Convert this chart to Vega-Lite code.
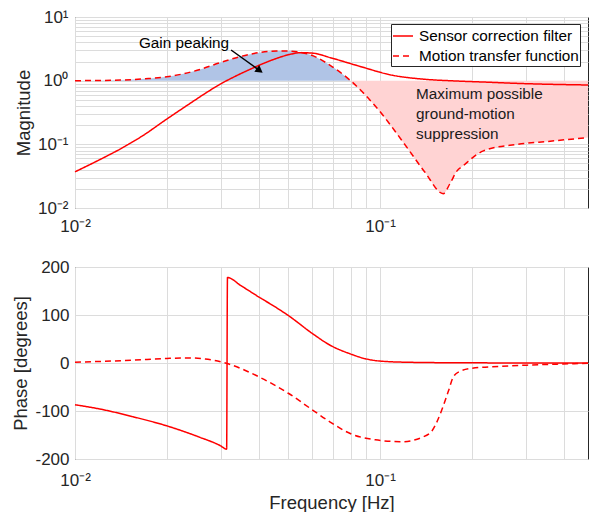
{
  "$schema": "https://vega.github.io/schema/vega-lite/v6.json",
  "background": "white",
  "padding": {"left": 11, "top": 7, "right": 0, "bottom": 0},
  "spacing": 22,
  "config": {
    "font": "Liberation Sans",
    "view": {"stroke": "#262626", "strokeWidth": 1},
    "axis": {"domain": false, "ticks": false, "grid": true, "gridColor": "#dcdcdc", "gridWidth": 1, "labelFont": "Liberation Sans", "labelFontSize": 17, "labelColor": "#262626", "titleFont": "Liberation Sans", "titleFontSize": 18.5, "titleFontWeight": "normal", "titleColor": "#262626", "labelOverlap": false, "labelBound": false, "labelFlush": false}
  },
  "resolve": {"scale": {"strokeDash": "independent", "color": "independent"}, "legend": {"strokeDash": "independent", "color": "independent"}},
  "datasets": {
    "fill": [
      {"f": 0.01, "mag": 1.0, "region": "gain"},
      {"f": 0.0141, "mag": 1.02, "region": "gain"},
      {"f": 0.017, "mag": 1.07, "region": "gain"},
      {"f": 0.02, "mag": 1.15, "region": "gain"},
      {"f": 0.0257, "mag": 1.5, "region": "gain"},
      {"f": 0.0299, "mag": 1.92, "region": "gain"},
      {"f": 0.0375, "mag": 2.6, "region": "gain"},
      {"f": 0.0436, "mag": 2.9, "region": "gain"},
      {"f": 0.0458, "mag": 2.93, "region": "gain"},
      {"f": 0.05, "mag": 2.92, "region": "gain"},
      {"f": 0.0547, "mag": 2.8, "region": "gain"},
      {"f": 0.0604, "mag": 2.45, "region": "gain"},
      {"f": 0.0686, "mag": 1.74, "region": "gain"},
      {"f": 0.08, "mag": 1.0, "region": "gain"},
      {"f": 0.08, "mag": 1.0, "region": "supp"},
      {"f": 0.0964, "mag": 0.4, "region": "supp"},
      {"f": 0.1236, "mag": 0.084, "region": "supp"},
      {"f": 0.1405, "mag": 0.036, "region": "supp"},
      {"f": 0.161, "mag": 0.0168, "region": "supp"},
      {"f": 0.17, "mag": 0.025, "region": "supp"},
      {"f": 0.1784, "mag": 0.038, "region": "supp"},
      {"f": 0.187, "mag": 0.046, "region": "supp"},
      {"f": 0.218, "mag": 0.079, "region": "supp"},
      {"f": 0.281, "mag": 0.1, "region": "supp"},
      {"f": 0.361, "mag": 0.112, "region": "supp"},
      {"f": 0.48, "mag": 0.128, "region": "supp"}
    ],
    "mag": [
      {"f": 0.01, "mag": 0.037, "series": "Sensor correction filter"},
      {"f": 0.0121, "mag": 0.058, "series": "Sensor correction filter"},
      {"f": 0.0141, "mag": 0.085, "series": "Sensor correction filter"},
      {"f": 0.0168, "mag": 0.14, "series": "Sensor correction filter"},
      {"f": 0.02, "mag": 0.25, "series": "Sensor correction filter"},
      {"f": 0.0235, "mag": 0.42, "series": "Sensor correction filter"},
      {"f": 0.0267, "mag": 0.63, "series": "Sensor correction filter"},
      {"f": 0.0299, "mag": 0.88, "series": "Sensor correction filter"},
      {"f": 0.0335, "mag": 1.17, "series": "Sensor correction filter"},
      {"f": 0.0375, "mag": 1.51, "series": "Sensor correction filter"},
      {"f": 0.0415, "mag": 1.87, "series": "Sensor correction filter"},
      {"f": 0.0458, "mag": 2.24, "series": "Sensor correction filter"},
      {"f": 0.0505, "mag": 2.58, "series": "Sensor correction filter"},
      {"f": 0.0547, "mag": 2.75, "series": "Sensor correction filter"},
      {"f": 0.0604, "mag": 2.7, "series": "Sensor correction filter"},
      {"f": 0.0686, "mag": 2.3, "series": "Sensor correction filter"},
      {"f": 0.085, "mag": 1.7, "series": "Sensor correction filter"},
      {"f": 0.1094, "mag": 1.22, "series": "Sensor correction filter"},
      {"f": 0.1405, "mag": 1.05, "series": "Sensor correction filter"},
      {"f": 0.176, "mag": 0.99, "series": "Sensor correction filter"},
      {"f": 0.22, "mag": 0.95, "series": "Sensor correction filter"},
      {"f": 0.294, "mag": 0.9, "series": "Sensor correction filter"},
      {"f": 0.48, "mag": 0.855, "series": "Sensor correction filter"},
      {"f": 0.01, "mag": 1.0, "series": "Motion transfer function"},
      {"f": 0.0141, "mag": 1.02, "series": "Motion transfer function"},
      {"f": 0.017, "mag": 1.07, "series": "Motion transfer function"},
      {"f": 0.02, "mag": 1.15, "series": "Motion transfer function"},
      {"f": 0.0257, "mag": 1.5, "series": "Motion transfer function"},
      {"f": 0.0299, "mag": 1.92, "series": "Motion transfer function"},
      {"f": 0.0375, "mag": 2.6, "series": "Motion transfer function"},
      {"f": 0.0436, "mag": 2.9, "series": "Motion transfer function"},
      {"f": 0.0458, "mag": 2.93, "series": "Motion transfer function"},
      {"f": 0.05, "mag": 2.92, "series": "Motion transfer function"},
      {"f": 0.0547, "mag": 2.8, "series": "Motion transfer function"},
      {"f": 0.0604, "mag": 2.45, "series": "Motion transfer function"},
      {"f": 0.0686, "mag": 1.74, "series": "Motion transfer function"},
      {"f": 0.08, "mag": 1.0, "series": "Motion transfer function"},
      {"f": 0.0964, "mag": 0.4, "series": "Motion transfer function"},
      {"f": 0.1236, "mag": 0.084, "series": "Motion transfer function"},
      {"f": 0.1405, "mag": 0.036, "series": "Motion transfer function"},
      {"f": 0.161, "mag": 0.0168, "series": "Motion transfer function"},
      {"f": 0.17, "mag": 0.025, "series": "Motion transfer function"},
      {"f": 0.1784, "mag": 0.038, "series": "Motion transfer function"},
      {"f": 0.187, "mag": 0.046, "series": "Motion transfer function"},
      {"f": 0.218, "mag": 0.079, "series": "Motion transfer function"},
      {"f": 0.281, "mag": 0.1, "series": "Motion transfer function"},
      {"f": 0.361, "mag": 0.112, "series": "Motion transfer function"},
      {"f": 0.48, "mag": 0.128, "series": "Motion transfer function"}
    ],
    "phase": [
      {"f": 0.01, "phase": -87, "series": "Sensor correction filter"},
      {"f": 0.0121, "phase": -96, "series": "Sensor correction filter"},
      {"f": 0.0155, "phase": -112, "series": "Sensor correction filter"},
      {"f": 0.02, "phase": -131, "series": "Sensor correction filter"},
      {"f": 0.0257, "phase": -155, "series": "Sensor correction filter"},
      {"f": 0.0299, "phase": -172, "series": "Sensor correction filter"},
      {"f": 0.0314, "phase": -179.5, "series": "Sensor correction filter"},
      {"f": 0.0316, "phase": 178, "series": "Sensor correction filter"},
      {"f": 0.035, "phase": 161, "series": "Sensor correction filter"},
      {"f": 0.0404, "phase": 136, "series": "Sensor correction filter"},
      {"f": 0.045, "phase": 118, "series": "Sensor correction filter"},
      {"f": 0.05, "phase": 99, "series": "Sensor correction filter"},
      {"f": 0.0604, "phase": 60, "series": "Sensor correction filter"},
      {"f": 0.0686, "phase": 37, "series": "Sensor correction filter"},
      {"f": 0.0798, "phase": 19, "series": "Sensor correction filter"},
      {"f": 0.0893, "phase": 9, "series": "Sensor correction filter"},
      {"f": 0.1, "phase": 4, "series": "Sensor correction filter"},
      {"f": 0.1236, "phase": 1.5, "series": "Sensor correction filter"},
      {"f": 0.176, "phase": 0.5, "series": "Sensor correction filter"},
      {"f": 0.25, "phase": 0.2, "series": "Sensor correction filter"},
      {"f": 0.48, "phase": 0, "series": "Sensor correction filter"},
      {"f": 0.01, "phase": 1.5, "series": "Motion transfer function"},
      {"f": 0.0155, "phase": 6, "series": "Motion transfer function"},
      {"f": 0.02, "phase": 9.5, "series": "Motion transfer function"},
      {"f": 0.0235, "phase": 10.5, "series": "Motion transfer function"},
      {"f": 0.0267, "phase": 8.5, "series": "Motion transfer function"},
      {"f": 0.0313, "phase": -0.5, "series": "Motion transfer function"},
      {"f": 0.0404, "phase": -30, "series": "Motion transfer function"},
      {"f": 0.05, "phase": -63, "series": "Motion transfer function"},
      {"f": 0.0604, "phase": -99, "series": "Motion transfer function"},
      {"f": 0.0686, "phase": -123, "series": "Motion transfer function"},
      {"f": 0.0798, "phase": -147, "series": "Motion transfer function"},
      {"f": 0.0964, "phase": -160, "series": "Motion transfer function"},
      {"f": 0.1178, "phase": -164, "series": "Motion transfer function"},
      {"f": 0.1371, "phase": -155, "series": "Motion transfer function"},
      {"f": 0.148, "phase": -141, "series": "Motion transfer function"},
      {"f": 0.159, "phase": -99, "series": "Motion transfer function"},
      {"f": 0.1675, "phase": -58, "series": "Motion transfer function"},
      {"f": 0.174, "phase": -28, "series": "Motion transfer function"},
      {"f": 0.183, "phase": -17, "series": "Motion transfer function"},
      {"f": 0.2, "phase": -11, "series": "Motion transfer function"},
      {"f": 0.247, "phase": -7, "series": "Motion transfer function"},
      {"f": 0.303, "phase": -4.5, "series": "Motion transfer function"},
      {"f": 0.398, "phase": -2, "series": "Motion transfer function"},
      {"f": 0.48, "phase": -0.5, "series": "Motion transfer function"}
    ]
  },
  "vconcat": [
    {
      "width": 513,
      "height": 191,
      "layer": [
        {
          "data": {"name": "fill"},
          "mark": {"type": "area", "opacity": 1, "interpolate": "monotone"},
          "encoding": {
            "x": {"field": "f", "type": "quantitative", "scale": {"type": "log", "domain": [0.01, 0.48], "nice": false},
              "axis": {"title": null, "values": [0.01, 0.02, 0.03, 0.04, 0.05, 0.06, 0.07, 0.08, 0.09, 0.1, 0.2, 0.3, 0.4], "labelExpr": "datum.value == 0.01 ? '10⁻²' : datum.value == 0.1 ? '10⁻¹' : ''", "labelPadding": 10}},
            "y": {"field": "mag", "type": "quantitative", "scale": {"type": "log", "domain": [0.01, 10], "nice": false},
              "axis": {"title": "Magnitude", "values": [0.01, 0.02, 0.03, 0.04, 0.05, 0.06, 0.07, 0.08, 0.09, 0.1, 0.2, 0.3, 0.4, 0.5, 0.6, 0.7, 0.8, 0.9, 1, 2, 3, 4, 5, 6, 7, 8, 9, 10], "labelExpr": "datum.value == 0.01 ? '10⁻²' : datum.value == 0.1 ? '10⁻¹' : datum.value == 1 ? '10⁰' : datum.value == 10 ? '10¹' : ''", "labelPadding": 7, "titlePadding": 4}},
            "y2": {"datum": 1},
            "color": {"field": "region", "type": "nominal", "scale": {"domain": ["gain", "supp"], "range": ["#b0c4e6", "#ffd3d3"]}, "legend": null}
          }
        },
        {
          "data": {"name": "mag"},
          "mark": {"type": "line", "color": "#ff0000", "strokeWidth": 1.5, "interpolate": "monotone"},
          "encoding": {
            "x": {"field": "f", "type": "quantitative"},
            "y": {"field": "mag", "type": "quantitative"},
            "strokeDash": {"field": "series", "type": "nominal",
              "scale": {"domain": ["Sensor correction filter", "Motion transfer function"], "range": [[1, 0], [6, 4]]},
              "legend": {"title": null, "orient": "none", "legendX": 316, "legendY": 7, "direction": "vertical", "fillColor": "white", "strokeColor": "#262626", "padding": 1, "labelFontSize": 15.3, "labelFont": "Liberation Sans", "labelColor": "#000000", "labelLimit": 400, "symbolType": "stroke", "symbolSize": 400, "symbolStrokeColor": "#ff0000", "symbolStrokeWidth": 1.5, "rowPadding": 0, "labelOffset": 5}}
          }
        },
        {
          "data": {"values": [{}]},
          "mark": {"type": "text", "text": "Gain peaking", "fontSize": 15.3, "font": "Liberation Sans", "color": "#000000", "align": "center", "baseline": "middle"},
          "encoding": {"x": {"datum": 0.02276}, "y": {"datum": 3.91}}
        },
        {
          "data": {"values": [{}]},
          "mark": {"type": "rule", "color": "#000000", "strokeWidth": 1.5},
          "encoding": {"x": {"datum": 0.03247}, "y": {"datum": 3.03}, "x2": {"datum": 0.0403}, "y2": {"datum": 1.44}}
        },
        {
          "data": {"values": [{}]},
          "mark": {"type": "point", "shape": "triangle-right", "angle": 36, "filled": true, "color": "#000000", "size": 70, "opacity": 1},
          "encoding": {"x": {"datum": 0.0403}, "y": {"datum": 1.44}}
        },
        {
          "data": {"values": [{}]},
          "mark": {"type": "text", "text": ["Maximum possible", "ground-motion", "suppression"], "fontSize": 15.3, "font": "Liberation Sans", "color": "#1a1a1a", "align": "left", "baseline": "middle", "lineHeight": 20},
          "encoding": {"x": {"datum": 0.1312}, "y": {"datum": 0.618}}
        }
      ]
    },
    {
      "width": 513,
      "height": 192,
      "data": {"name": "phase"},
      "mark": {"type": "line", "color": "#ff0000", "strokeWidth": 1.5, "interpolate": "monotone"},
      "encoding": {
        "x": {"field": "f", "type": "quantitative", "scale": {"type": "log", "domain": [0.01, 0.48], "nice": false},
          "axis": {"title": "Frequency [Hz]", "values": [0.01, 0.02, 0.03, 0.04, 0.05, 0.06, 0.07, 0.08, 0.09, 0.1, 0.2, 0.3, 0.4], "labelExpr": "datum.value == 0.01 ? '10⁻²' : datum.value == 0.1 ? '10⁻¹' : ''", "labelPadding": 13, "titlePadding": 5}},
        "y": {"field": "phase", "type": "quantitative", "scale": {"domain": [-200, 200], "nice": false},
          "axis": {"title": "Phase [degrees]", "values": [-200, -100, 0, 100, 200], "labelExpr": "'' + datum.value", "labelPadding": 6, "titlePadding": 4}},
        "strokeDash": {"field": "series", "type": "nominal",
          "scale": {"domain": ["Sensor correction filter", "Motion transfer function"], "range": [[1, 0], [6, 4]]}, "legend": null}
      }
    }
  ]
}
